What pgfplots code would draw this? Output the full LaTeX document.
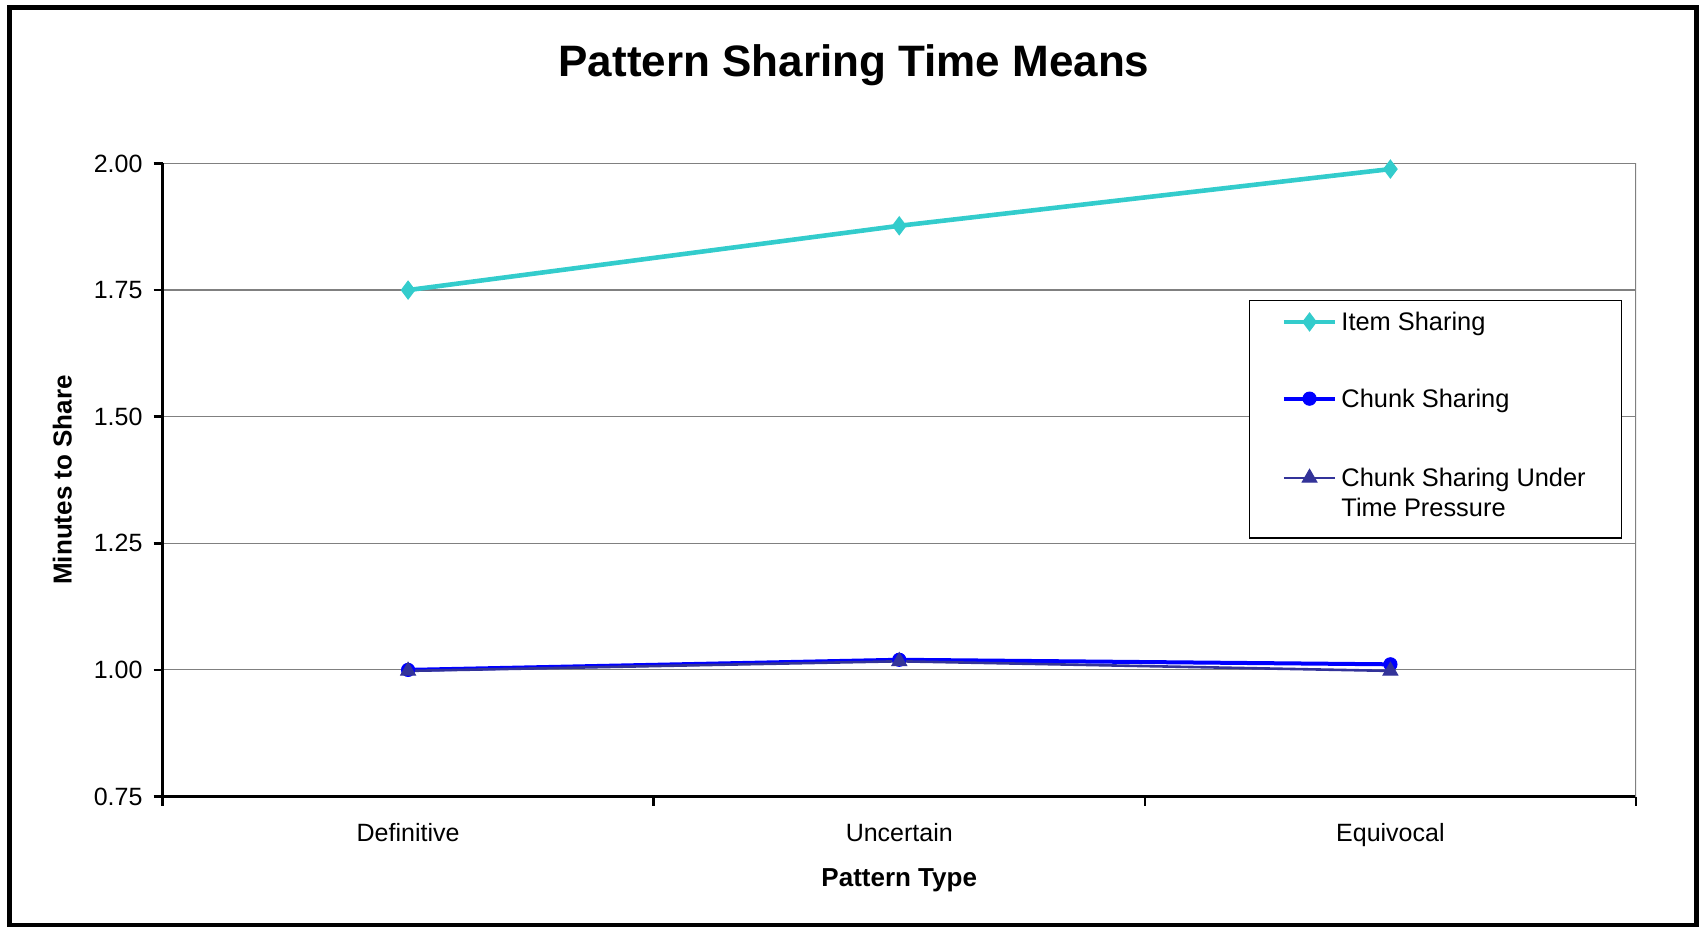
\documentclass[border=0pt]{standalone}
\usepackage{pgfplots}
\pgfplotsset{compat=1.18}
\usepackage{fontspec}
\setmainfont{Liberation Sans}

\definecolor{itemc}{HTML}{33CCCC}
\definecolor{chunkc}{HTML}{0000FF}
\definecolor{pressc}{HTML}{333399}

\begin{document}
\begin{tikzpicture}
  \path[use as bounding box] (0,0) rectangle (849.5pt,463.5pt);
  \draw[black, line width=2.5pt] (4.75pt,0.5pt) rectangle (848pt,459.75pt);
  \node[font=\fontsize{22}{26}\selectfont\bfseries] at (427pt,431pt) {Pattern Sharing Time Means};

  \begin{axis}[
    at={(81.25pt,65.25pt)}, anchor=south west,
    scale only axis,
    width=736.75pt, height=316.5pt,
    axis lines*=left,
    axis line style={black, line width=1.3pt, -},
    xmin=-0.5, xmax=2.5,
    ymin=0.75, ymax=2.0,
    ytick={0.75,1.00,1.25,1.50,1.75,2.00},
    yticklabel style={xshift=-2pt, /pgf/number format/fixed, /pgf/number format/fixed zerofill, /pgf/number format/precision=2},
    /pgf/number format/assume math mode=true,
    xtick={-0.5,0.5,1.5,2.5},
    xticklabels={},
    extra x ticks={0,1,2},
    extra x tick labels={Definitive,Uncertain,Equivocal},
    extra x tick style={major tick length=0pt, xticklabel style={yshift=-10pt}},
    tick align=outside,
    major tick length=4.5pt,
    tick style={black, line width=1.3pt},
    ymajorgrids,
    grid style={draw=gray, line width=0.6pt},
    ticklabel style={font=\fontsize{12.5}{15}\selectfont},
    xlabel={Pattern Type},
    ylabel={Minutes to Share},
    label style={font=\fontsize{13}{15}\selectfont\bfseries},
    xlabel style={at={(axis description cs:0.5,-0.1327)}, anchor=center},
    ylabel style={at={(axis description cs:-0.0679,0.5)}, anchor=center},
    legend style={
      at={(0.7374,0.7844)}, anchor=north west,
      draw=black, line width=0.6pt,
      font=\fontsize{12.7}{15}\selectfont,
      inner xsep=16pt, inner ysep=4pt,
      row sep=22.5pt,
      cells={anchor=base west},
      nodes={text depth=},
    },
    legend image code/.code={%
      \draw[mark repeat=2, mark phase=2] plot coordinates {(0cm,4.5pt) (0.45cm,4.5pt) (0.9cm,4.5pt)};},
  ]
    \addplot[color=itemc, line width=2.3pt, mark=diamond*, mark size=4.5pt, mark options={solid, line width=0.5pt}]
      coordinates {(0,1.75) (1,1.877) (2,1.989)};
    \addlegendentry{Item Sharing}

    \addplot[color=chunkc, line width=2pt, mark=*, mark size=3.3pt, mark options={solid, line width=0.5pt}]
      coordinates {(0,1.00) (1,1.02) (2,1.011)};
    \addlegendentry{Chunk Sharing}

    \addplot[color=pressc, line width=1.3pt, mark=triangle*, mark size=4.3pt, mark options={solid, line width=0.5pt}]
      coordinates {(0,0.998) (1,1.017) (2,0.998)};
    \addlegendentry{\begin{tabular}[t]{@{}l@{}}Chunk Sharing Under\\Time Pressure\end{tabular}}

    \draw[gray, line width=0.8pt] (rel axis cs:1,0) -- (rel axis cs:1,1);
  \end{axis}
\end{tikzpicture}
\end{document}
